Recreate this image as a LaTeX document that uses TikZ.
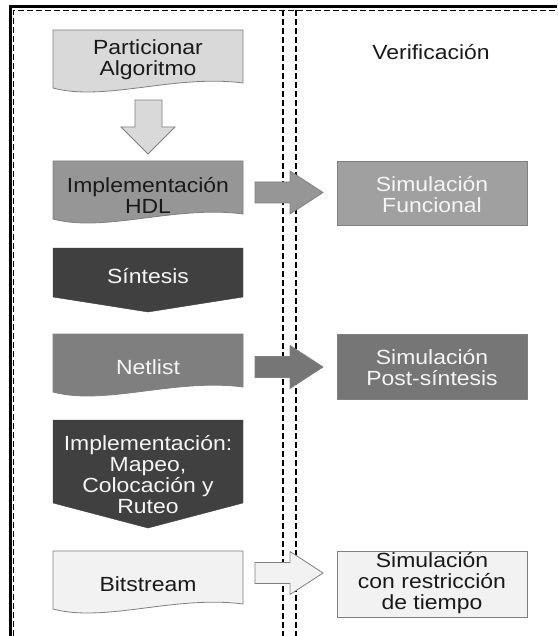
\documentclass[tikz,border=0pt]{standalone}
\usepackage{fontspec}
\setmainfont{Liberation Sans}[FakeStretch=1.12]
\definecolor{clight}{HTML}{D9D9D9}
\definecolor{cmid}{HTML}{969696}
\definecolor{cmidb}{HTML}{A0A0A0}
\definecolor{cdark}{HTML}{404040}
\definecolor{cnet}{HTML}{7F7F7F}
\definecolor{cnetb}{HTML}{767676}
\definecolor{cpale}{HTML}{F2F2F2}
\definecolor{cborder}{HTML}{808080}
\definecolor{txtdark}{HTML}{1A1A1A}
\definecolor{txtlight}{HTML}{F5F5F5}
\tikzset{
  lbl/.style={align=center, inner sep=0pt, font=\fontsize{20.5}{21}\selectfont},
  darktext/.style={lbl, text=txtdark},
  lighttext/.style={lbl, text=txtlight},
  shapeline/.style={draw=cborder, line width=0.8pt},
  sepdash/.style={draw=black, line width=1.1pt, dash pattern=on 6pt off 3pt},
}
\newcommand\docpath[2]{%
  \path[shapeline, fill=#2] (53,#1) -- (243,#1) -- (243,#1+53)
    .. controls (175,#1+44) and (105,#1+72) .. (53,#1+58) -- cycle;}
\newcommand\rarrow[2]{%
  \path[shapeline, fill=#2] (255,#1-10.5) -- (290,#1-10.5) -- (290,#1-21.5)
    -- (323,#1) -- (290,#1+21.5) -- (290,#1+10.5) -- (255,#1+10.5) -- cycle;}
\begin{document}
\begin{tikzpicture}[x=1pt,y=-1pt]
\useasboundingbox (0,0) rectangle (557,636);
% frame
\draw[line width=3pt] (10,636) -- (10,7) -- (557,7);
\draw[sepdash] (13.8,636) -- (13.8,10.6) -- (557,10.6);
\draw[sepdash] (283,10) -- (283,636);
\draw[sepdash] (296,10) -- (296,636);
% left column shapes
\docpath{30}{clight}
\path[shapeline, fill=clight] (135,100) -- (162,100) -- (162,127) -- (175,127)
  -- (148,154) -- (121,127) -- (135,127) -- cycle;
\docpath{161}{cmid}
\path[draw=cdark, fill=cdark] (53,248) -- (243,248) -- (243,297) -- (148,312) -- (53,297) -- cycle;
\docpath{334}{cnet}
\path[draw=cdark, fill=cdark] (53,420) -- (243,420) -- (243,503) -- (148,528) -- (53,503) -- cycle;
\docpath{551}{cpale}
% arrows to the right
\rarrow{192.5}{cmid}
\rarrow{367}{cnetb}
\rarrow{573}{cpale}
% right boxes
\path[shapeline, fill=cmidb] (337,161) rectangle (527,225);
\path[shapeline, fill=cnetb] (337,334) rectangle (527,399);
\path[shapeline, fill=cpale] (337,551) rectangle (527,617);
% texts
\node[darktext] (verif) at (431,52) {Verificación};
\node[darktext] (part) at (148,60) {Particionar\\Algoritmo};
\node[darktext] (hdl) at (148,195) {Implementación\\HDL};
\node[lighttext] (sint) at (148,276) {Síntesis};
\node[lighttext] (net) at (148,367) {Netlist};
\node[lighttext] (impl) at (148,475) {Implementación:\\Mapeo,\\Colocación y\\Ruteo};
\node[darktext] (bits) at (148,584) {Bitstream};
\node[lighttext] (simf) at (432,195) {Simulación\\Funcional};
\node[lighttext] (simp) at (432,368) {Simulación\\Post-síntesis};
\node[darktext] (simt) at (432,583) {Simulación\\con restricción\\de tiempo};
\end{tikzpicture}
\end{document}
